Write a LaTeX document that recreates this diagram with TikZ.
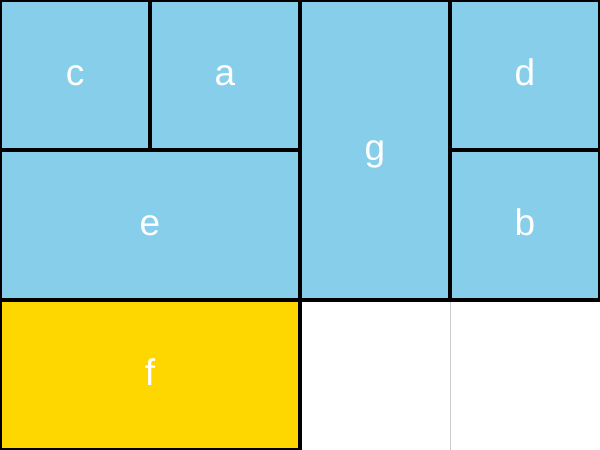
\documentclass[tikz,border=0pt]{standalone}
\usepackage{fontspec}
\setmainfont{Liberation Sans}
\definecolor{sky}{HTML}{87CEEB}
\definecolor{goldc}{HTML}{FFD700}
\definecolor{sepgray}{HTML}{CCCCCC}
\tikzset{
  cell/.style={fill=sky, draw=black, line width=3.5pt},
  lbl/.style={text=white, font=\fontsize{37}{40}\selectfont, inner sep=0pt, anchor=base}
}
\begin{document}
\begin{tikzpicture}[x=1pt,y=-1pt]
\useasboundingbox (0,0) rectangle (600,450);
\clip (0,0) rectangle (600,450);
\fill[white] (0,0) rectangle (600,450);
\draw[draw=sepgray, line width=1pt] (450,300) -- (450,450);
\draw[cell] (0,0) rectangle (150,150);
\draw[cell] (150,0) rectangle (300,150);
\draw[cell] (300,0) rectangle (450,300);
\draw[cell] (450,0) rectangle (600,150);
\draw[cell] (0,150) rectangle (300,300);
\draw[cell] (450,150) rectangle (600,300);
\draw[cell, fill=goldc] (0,300) rectangle (300,450);
\node[lbl] (c) at (75,85) {c};
\node[lbl] (a) at (225,85) {a};
\node[lbl] (g) at (375,160) {g};
\node[lbl] (d) at (525,85) {d};
\node[lbl] (e) at (150,235) {e};
\node[lbl] (b) at (525,235) {b};
\node[lbl] (f) at (150,385) {f};
\end{tikzpicture}
\end{document}
